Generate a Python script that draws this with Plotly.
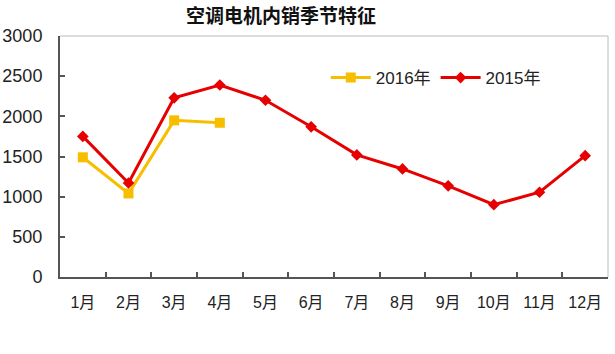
import plotly.graph_objects as go

months = ["1月", "2月", "3月", "4月", "5月", "6月", "7月", "8月", "9月", "10月", "11月", "12月"]
sales_2016 = [1490, 1040, 1950, 1920]
sales_2015 = [1750, 1170, 2230, 2390, 2200, 1870, 1520, 1345, 1135, 900, 1055, 1510]
y_ticks = [0, 500, 1000, 1500, 2000, 2500, 3000]

font_family = "Liberation Sans, Arial, Noto Sans CJK SC, sans-serif"

fig = go.Figure()
fig.add_trace(go.Scatter(
    x=months[:len(sales_2016)], y=sales_2016, name="2016年", mode="lines+markers",
    line=dict(color="#F7BE00", width=3),
    marker=dict(symbol="square", size=10, color="#F7BE00"),
))
fig.add_trace(go.Scatter(
    x=months, y=sales_2015, name="2015年", mode="lines+markers",
    line=dict(color="#E60000", width=3),
    marker=dict(symbol="diamond", size=9, color="#E60000"),
))

fig.update_layout(
    width=615, height=354,
    margin=dict(l=60, r=7, t=36, b=77),
    paper_bgcolor="white", plot_bgcolor="white",
    font=dict(family=font_family, size=15, color="#222222"),
    title=dict(text="<b>空调电机内销季节特征</b>", x=281 / 615, xanchor="center",
               y=1 - 16 / 354, yanchor="middle",
               font=dict(family="Noto Sans CJK SC, sans-serif", size=19, color="#111111")),
    showlegend=True,
    legend=dict(orientation="h", x=0.485, y=(277 - 78) / 241, xanchor="left", yanchor="middle",
                font=dict(size=17, color="#222222"), bgcolor="rgba(0,0,0,0)",
                itemwidth=40, tracegroupgap=0),
)
fig.update_xaxes(
    type="category", categoryorder="array", categoryarray=months,
    range=[-0.5, 11.5], automargin=False,
    showline=True, linecolor="#555555", linewidth=2, mirror=False,
    ticks="inside", ticklen=5, tickcolor="#555555", tickwidth=2, tickson="boundaries",
    showgrid=False, tickfont=dict(size=16, color="#222222"), ticklabelstandoff=10,
)
fig.update_yaxes(
    range=[0, 3000], tickvals=y_ticks, automargin=False,
    showline=True, linecolor="#555555", linewidth=2, mirror=False,
    ticks="inside", ticklen=5, tickcolor="#555555", tickwidth=2,
    showgrid=False, zeroline=False,
    tickfont=dict(size=18, color="#222222"), ticklabelstandoff=12,
)
# light frame on top and right
fig.add_shape(type="line", xref="paper", yref="paper", x0=0, x1=1, y0=1, y1=1,
              line=dict(color="#BBBBBB", width=1))
fig.add_shape(type="line", xref="paper", yref="paper", x0=1, x1=1, y0=0, y1=1,
              line=dict(color="#BBBBBB", width=1))

fig.write_html("out.html")
